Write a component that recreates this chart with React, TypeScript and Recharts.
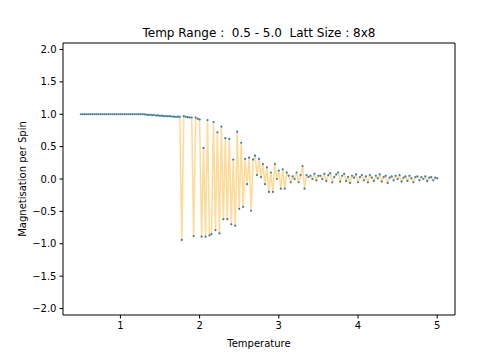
import { ComposedChart, Line, XAxis, YAxis, Label, ReferenceLine } from "recharts";

// temperatures sampled in the run
const TEMPS = [
  0.5, 0.525, 0.55, 0.575, 0.6, 0.625, 0.65, 0.675, 0.7, 0.725,
  0.75, 0.775, 0.8, 0.825, 0.85, 0.875, 0.9, 0.925, 0.95, 0.975,
  1.0, 1.025, 1.05, 1.075, 1.1, 1.125, 1.15, 1.175, 1.2, 1.225,
  1.25, 1.275, 1.3, 1.325, 1.35, 1.375, 1.4, 1.425, 1.45, 1.475,
  1.5, 1.525, 1.55, 1.575, 1.6, 1.625, 1.65, 1.675, 1.7, 1.725,
  1.75, 1.775, 1.8, 1.825, 1.85, 1.875, 1.9, 1.925, 1.95, 1.975,
  2.0, 2.025, 2.05, 2.075, 2.1, 2.125, 2.15, 2.175, 2.2, 2.225,
  2.25, 2.275, 2.3, 2.325, 2.35, 2.375, 2.4, 2.425, 2.45, 2.475,
  2.5, 2.525, 2.55, 2.575, 2.6, 2.625, 2.65, 2.675, 2.7, 2.725,
  2.75, 2.775, 2.8, 2.825, 2.85, 2.875, 2.9, 2.925, 2.95, 2.975,
  3.0, 3.025, 3.05, 3.075, 3.1, 3.125, 3.15, 3.175, 3.2, 3.225,
  3.25, 3.275, 3.3, 3.325, 3.35, 3.375, 3.4, 3.425, 3.45, 3.475,
  3.5, 3.525, 3.55, 3.575, 3.6, 3.625, 3.65, 3.675, 3.7, 3.725,
  3.75, 3.775, 3.8, 3.825, 3.85, 3.875, 3.9, 3.925, 3.95, 3.975,
  4.0, 4.025, 4.05, 4.075, 4.1, 4.125, 4.15, 4.175, 4.2, 4.225,
  4.25, 4.275, 4.3, 4.325, 4.35, 4.375, 4.4, 4.425, 4.45, 4.475,
  4.5, 4.525, 4.55, 4.575, 4.6, 4.625, 4.65, 4.675, 4.7, 4.725,
  4.75, 4.775, 4.8, 4.825, 4.85, 4.875, 4.9, 4.925, 4.95, 4.975,
  5.0,
];

// magnetisation per spin at each temperature
const MAG = [
  1.0, 1.0, 1.0, 1.0, 1.0, 1.0, 1.0, 1.0, 1.0, 1.0,
  1.0, 1.0, 1.0, 1.0, 1.0, 1.0, 1.0, 1.0, 1.0, 1.0,
  1.0, 1.0, 1.0, 1.0, 1.0, 1.0, 1.0, 1.0, 1.0, 1.0,
  1.0, 1.0, 0.998, 0.995, 0.99, 0.992, 0.985, 0.988, 0.98, 0.982,
  0.975, 0.978, 0.97, 0.972, 0.968, 0.97, 0.965, 0.962, 0.96, 0.962,
  0.96, -0.94, 0.97, 0.96, 0.955, 0.95, 0.95, -0.88, 0.95, 0.93,
  0.92, -0.89, 0.48, -0.89, 0.91, -0.87, -0.85, 0.88, -0.79, 0.72,
  -0.84, 0.81, -0.62, 0.63, -0.62, 0.62, -0.7, 0.3, -0.72, 0.73,
  -0.46, 0.56, -0.43, 0.31, -0.08, 0.33, -0.49, 0.3, 0.36, 0.06,
  0.31, 0.03, 0.23, -0.08, 0.18, -0.2, 0.1, -0.2, 0.23, 0.0,
  0.13, -0.15, 0.15, -0.15, 0.1, 0.05, -0.05, 0.04, 0.0, 0.1,
  -0.05, 0.06, 0.2, -0.15, 0.06, 0.03, 0.05, 0.0, 0.08, -0.02,
  0.05, 0.05, 0.0, 0.08, -0.03, 0.06, 0.09, -0.05, 0.03, 0.07,
  0.1, -0.04, 0.05, 0.08, -0.03, 0.03, -0.06, 0.05, 0.02, 0.07,
  -0.05, 0.03, 0.06, -0.02, 0.04, -0.05, 0.06, 0.02, -0.03, 0.05,
  0.01, 0.07, -0.04, 0.03, 0.05, -0.06, 0.02, 0.04, -0.02, 0.05,
  0.0, 0.06, -0.04, 0.02, 0.04, -0.03, 0.05, 0.01, -0.05, 0.03,
  0.04, -0.02, 0.03, 0.0, 0.04, -0.03, 0.02, 0.03, -0.02, 0.02,
  0.01,
];

const X_TICKS = [1, 2, 3, 4, 5];
const Y_TICKS = [-2.0, -1.5, -1.0, -0.5, 0.0, 0.5, 1.0, 1.5, 2.0];
const X_DOMAIN = [0.275, 5.225];
const Y_DOMAIN = [-2.1, 2.1];

const FONT = "DejaVu Sans";

const fmtY = (v: number) => (v < 0 ? "\u2212" : "") + Math.abs(v).toFixed(1);

export default function App() {
  const data = TEMPS.map((t, i) => ({ t, m: MAG[i] }));
  const tick = { fill: "#000", fontSize: 10, fontFamily: FONT };
  return (
    <div style={{ position: "absolute", left: 0, top: 0, width: 504, height: 360, background: "#fff" }}>
      <ComposedChart width={504} height={360} data={data} margin={{ top: 43, right: 49, bottom: 0, left: 0 }}>
        <text x={259} y={37} textAnchor="middle" fontSize={12} fontFamily={FONT} fill="#000" style={{ whiteSpace: "pre" }}>
          {"Temp Range :  0.5 - 5.0  Latt Size : 8x8"}
        </text>
        <XAxis
          type="number"
          dataKey="t"
          domain={X_DOMAIN}
          ticks={X_TICKS}
          allowDataOverflow
          height={45}
          stroke="#000"
          tickSize={3.5}
          tickMargin={3}
          tick={tick}
        >
          <Label value="Temperature" position="insideBottom" offset={13} fill="#000" fontSize={10} fontFamily={FONT} />
        </XAxis>
        <YAxis
          type="number"
          domain={Y_DOMAIN}
          ticks={Y_TICKS}
          allowDataOverflow
          width={63}
          stroke="#000"
          tickSize={3.5}
          tickMargin={3}
          tick={tick}
          tickFormatter={fmtY}
        >
          <Label value="Magnetisation per Spin" angle={-90} position="insideLeft" offset={22} fill="#000" fontSize={10} fontFamily={FONT} style={{ textAnchor: "middle" }} />
        </YAxis>
        {/* top and right spines */}
        <ReferenceLine y={2.1} stroke="#000" ifOverflow="visible" />
        <ReferenceLine x={5.225} stroke="#000" ifOverflow="visible" />
        <Line
          dataKey="m"
          stroke="none"
          isAnimationActive={false}
          activeDot={false}
          dot={(p: any) => <circle key={p.index} cx={p.cx} cy={p.cy} r={1.1} fill="#3b7fae" />}
        />
        <Line
          dataKey="m"
          type="linear"
          stroke="#ffa500"
          strokeOpacity={0.4}
          strokeWidth={1.6}
          dot={false}
          activeDot={false}
          isAnimationActive={false}
        />
      </ComposedChart>
    </div>
  );
}
